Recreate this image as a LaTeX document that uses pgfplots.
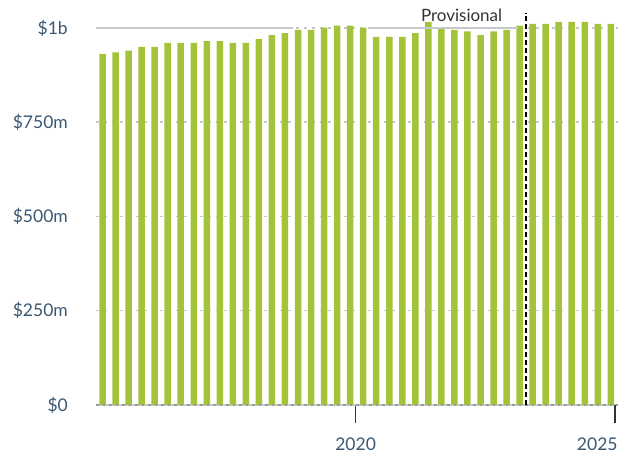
\documentclass[border=0pt]{standalone}
\usepackage{pgfplots}
\pgfplotsset{compat=1.18}
\usepackage{fontspec}
\setmainfont{Lato}
\definecolor{barg}{HTML}{A2C33A}
\definecolor{lab}{HTML}{3B5873}
\definecolor{gridc}{HTML}{C5C9CE}
\definecolor{tickc}{HTML}{333333}
\begin{document}
\begin{tikzpicture}[x=1pt,y=1pt]
\useasboundingbox (0,0) rectangle (626,457);
\begin{axis}[
  at={(96pt,52pt)}, anchor=south west,
  scale only axis, width=522pt, height=405pt,
  xmin=-0.5, xmax=39.55, ymin=0, ymax=1074,
  axis x line*=bottom, axis y line*=left,
  axis line style={-},
  x axis line style={draw=gridc, line width=2pt},
  y axis line style={draw=none},
  xtick={19.42}, xticklabels={2020},
  extra x ticks={39.3}, extra x tick labels={2025},
  extra x tick style={xticklabel style={anchor=north east, xshift=3pt}},
  ytick={0,250,500,750,1000},
  yticklabels={\$0,\$250m,\$500m,\$750m,\$1b},
  ytick style={draw=none},
  major tick length=18pt,
  xtick align=outside,
  x tick style={draw=tickc, line width=1.5pt},
  ticklabel style={font=\fontsize{17.5}{18}\selectfont, text=lab},
  yticklabel style={anchor=east, inner sep=0pt, xshift=-28pt},
  xticklabel style={anchor=north, inner sep=0pt, yshift=-15pt},
  ymajorgrids,
  y grid style={draw=gridc, line width=1.5pt, dash pattern=on 3pt off 5pt},
  clip=false,
]
\addplot[ybar, bar width=6.5pt, fill=barg, draw=none] coordinates {
(0,931) (1,935) (2,940) (3,950) (4,950) (5,960) (6,960) (7,960) (8,965) (9,965)
(10,960) (11,960) (12,970) (13,981) (14,986) (15,995) (16,995) (17,1001) (18,1006) (19,1006)
(20,1001) (21,976) (22,976) (23,976) (24,986) (25,1016) (26,1001) (27,995) (28,991) (29,981)
(30,991) (31,995) (32,1006) (33,1011) (34,1011) (35,1016) (36,1016) (37,1016) (38,1011) (39,1011)
};
\draw[gridc, line width=2pt] (axis cs:-0.5,1000) -- (axis cs:14.62,1000);
\draw[gridc, line width=2pt] (axis cs:20.37,1000) -- (axis cs:31.88,1000);
\draw[gray!80, line width=1.2pt, dash pattern=on 2.5pt off 4pt] (axis cs:-0.5,0) -- (axis cs:39.55,0);
\draw[black, line width=2pt, dash pattern=on 5pt off 3pt] (axis cs:32.52,0) -- (axis cs:32.52,1040);
\node[anchor=base east, inner sep=0pt, font=\fontsize{17}{18}\selectfont, text=tickc] at (axis cs:32.52,1016) [xshift=-24pt] {Provisional};
\end{axis}
\end{tikzpicture}
\end{document}
